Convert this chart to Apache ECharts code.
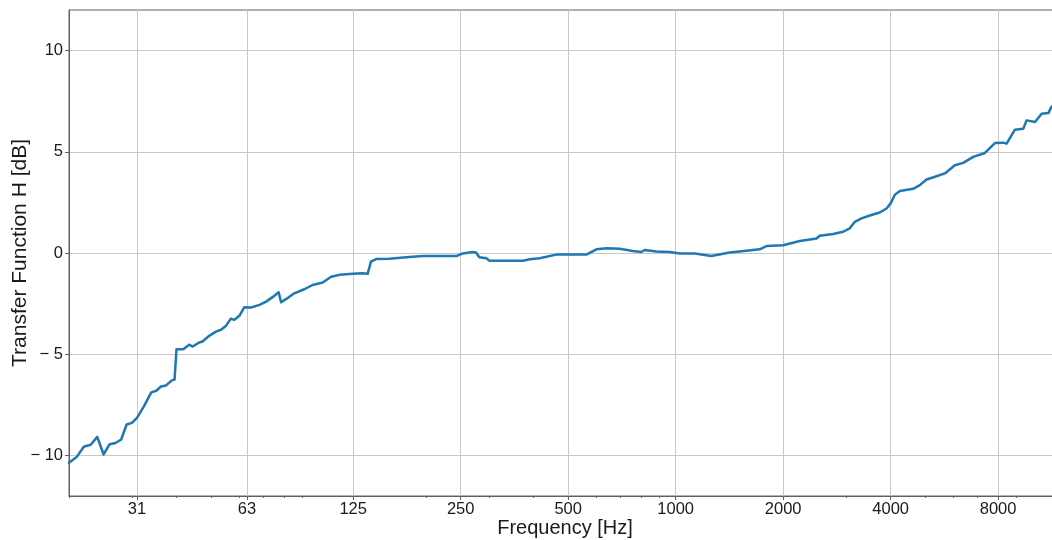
<!DOCTYPE html>
<html>
<head>
<meta charset="utf-8">
<script src="https://cdn.jsdelivr.net/npm/echarts@6/dist/echarts.min.js"></script>
<style>
html,body{margin:0;padding:0;background:#fff;}
#chart{width:1052px;height:540px;}
</style>
</head>
<body>
<div id="chart"></div>
<script>
// Frequency (Hz) and transfer function (dB)
const freqHz = [20,21,22,23,24,25,26,27,28,29,30,31,32.5,34,35.1,36.2,37.4,38.8,39.5,40,41.8,43.4,44.4,46.3,47.3,49.4,51.6,53.3,55,56.8,58.1,60,61.9,64.7,68.3,71.3,74.3,77.3,78.5,81,85.5,91.2,96.2,102.7,108.4,114.3,124.6,132.9,137.2,140.2,144.9,157.8,176,196,218,243,253.5,270,276,282,295,301,336,374,390,416,463,515,562,600,640,697,759,801,819,883,962,1026,1131,1259,1417,1578,1719,1796,2000,2227,2480,2533,2760,2944,3074,3175,3315,3497,3729,3895,4000,4110,4245,4625,4829,5042,5378,5675,6054,6387,6813,7347,7836,8270,8450,8915,9408,9614,10145,10590,11060,11300,11900];
const gainDb = [-10.36,-10.08,-9.57,-9.47,-9.08,-9.95,-9.44,-9.38,-9.21,-8.47,-8.39,-8.14,-7.54,-6.88,-6.80,-6.59,-6.54,-6.29,-6.25,-4.75,-4.75,-4.53,-4.62,-4.42,-4.37,-4.09,-3.88,-3.79,-3.60,-3.24,-3.30,-3.10,-2.68,-2.69,-2.56,-2.40,-2.18,-1.94,-2.43,-2.28,-1.99,-1.79,-1.58,-1.46,-1.17,-1.08,-1.03,-1.00,-1.03,-0.43,-0.30,-0.28,-0.21,-0.15,-0.15,-0.15,-0.02,0.05,0.02,-0.21,-0.26,-0.38,-0.38,-0.38,-0.31,-0.26,-0.08,-0.08,-0.08,0.18,0.23,0.21,0.10,0.05,0.15,0.07,0.05,-0.03,-0.02,-0.15,0.02,0.11,0.18,0.34,0.38,0.59,0.72,0.85,0.94,1.05,1.22,1.54,1.71,1.85,2.00,2.20,2.45,2.88,3.06,3.17,3.35,3.63,3.79,3.93,4.33,4.45,4.75,4.94,5.43,5.45,5.40,6.09,6.14,6.55,6.47,6.88,6.91,7.24,7.30];
const xMajorTicks = [31,63,125,250,500,1000,2000,4000,8000];
const xMinorTicks = [20,30,40,50,60,70,80,90,200,300,400,500,600,700,800,900,2000,3000,4000,5000,6000,7000,8000,9000];
const yTicks = [-10,-5,0,5,10];
const xTitle = 'Frequency [Hz]';
const yTitle = 'Transfer Function H [dB]';

const fontFamily = '"Liberation Sans", Arial, Helvetica, sans-serif';
const X_MIN = 20, X_MAX = 12000;
const chart = echarts.init(document.getElementById('chart'), null, {renderer: 'canvas'});
const seriesData = freqHz.map((f, i) => [f, gainDb[i]]);

chart.setOption({
  animation: false,
  backgroundColor: '#ffffff',
  grid: {left: 69, top: 10, right: -9, bottom: 44, show: true, borderColor: '#606060', borderWidth: 1,
    containLabel: false, outerBoundsMode: 'none'},
  xAxis: [{
    type: 'log', logBase: 10, min: X_MIN, max: X_MAX,
    name: xTitle, nameLocation: 'middle', nameGap: 22, nameMoveOverlap: false,
    nameTextStyle: {fontFamily, fontSize: 20, color: '#1a1a1a'},
    axisLine: {show: true, onZero: false, lineStyle: {color: '#606060', width: 1}},
    axisTick: {show: true, inside: false, length: 4, customValues: xMajorTicks, lineStyle: {color: '#606060'}},
    axisLabel: {show: true, margin: 5, customValues: xMajorTicks, fontFamily, fontSize: 16.5, color: '#1a1a1a',
      formatter: v => String(Math.round(v))},
    splitLine: {show: true, lineStyle: {color: '#c8c8c8', width: 1}},
    minorTick: {show: false}, minorSplitLine: {show: false}
  }, {
    type: 'log', logBase: 10, min: X_MIN, max: X_MAX, position: 'bottom', gridIndex: 0,
    axisLine: {show: false, onZero: false},
    axisTick: {show: true, inside: false, length: 2, customValues: xMinorTicks, lineStyle: {color: '#606060'}},
    axisLabel: {show: false},
    splitLine: {show: false}
  }],
  yAxis: {
    type: 'value', min: -12, max: 12,
    name: yTitle, nameLocation: 'middle', nameGap: 38, nameMoveOverlap: false,
    nameTextStyle: {fontFamily, fontSize: 21, color: '#1a1a1a'},
    axisLine: {show: true, onZero: false, lineStyle: {color: '#606060', width: 1}},
    axisTick: {show: true, inside: false, length: 4, customValues: yTicks, lineStyle: {color: '#606060'}},
    axisLabel: {show: true, margin: 6, customValues: yTicks, fontFamily, fontSize: 16.5, color: '#1a1a1a',
      formatter: v => v < 0 ? '\u2212 ' + Math.abs(v) : String(v)},
    splitLine: {show: true, lineStyle: {color: '#c8c8c8', width: 1}}
  },
  series: [{
    type: 'line', xAxisIndex: 0, yAxisIndex: 0,
    data: seriesData, showSymbol: false, symbol: 'none',
    lineStyle: {color: '#1f77b4', width: 2.5, join: 'round', cap: 'round'},
    clip: true
  }]
});
</script>
</body>
</html>
